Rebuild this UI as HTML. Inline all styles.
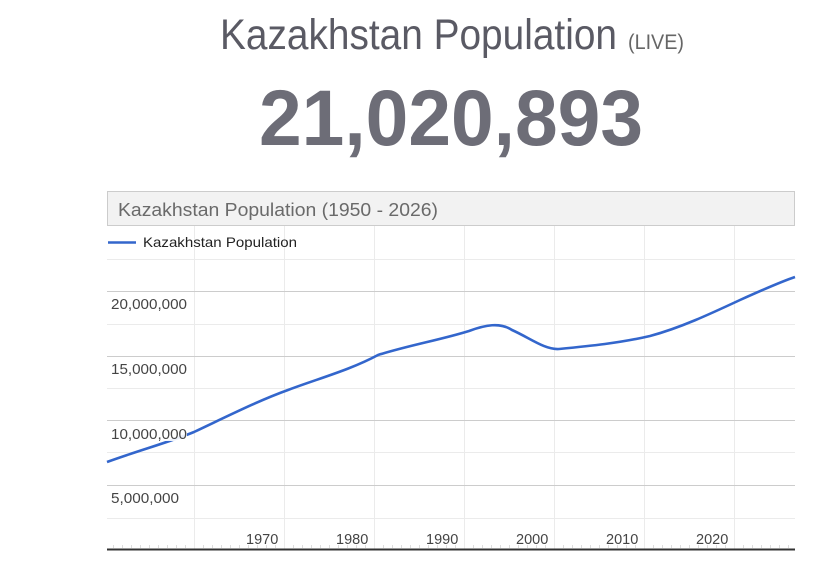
<!DOCTYPE html>
<html><head><meta charset="utf-8"><style>
html,body{margin:0;padding:0;background:#fff;}
svg{display:block;font-family:"Liberation Sans",Arial,sans-serif;}
</style></head><body>
<svg width="833" height="564" viewBox="0 0 833 564">
<text x="220" y="49" font-size="43" fill="#5a5a64" font-weight="300" textLength="397" lengthAdjust="spacingAndGlyphs">Kazakhstan Population</text>
<text x="628" y="49" font-size="21" fill="#666" textLength="56" lengthAdjust="spacingAndGlyphs">(LIVE)</text>
<text x="259" y="145" font-size="79" font-weight="bold" fill="#6d6d77" textLength="384" lengthAdjust="spacingAndGlyphs">21,020,893</text>
<rect x="107.5" y="191.5" width="687" height="34" fill="#f2f2f2" stroke="#ccc"/>
<text x="118" y="216" font-size="18" fill="#6a6a6a" textLength="320" lengthAdjust="spacingAndGlyphs">Kazakhstan Population (1950 - 2026)</text>
<g stroke="#ebebeb" stroke-width="1">
<line x1="194.5" y1="226" x2="194.5" y2="550"/><line x1="284.5" y1="226" x2="284.5" y2="550"/><line x1="374.5" y1="226" x2="374.5" y2="550"/><line x1="464.5" y1="226" x2="464.5" y2="550"/><line x1="554.5" y1="226" x2="554.5" y2="550"/><line x1="644.5" y1="226" x2="644.5" y2="550"/><line x1="734.5" y1="226" x2="734.5" y2="550"/>
<line x1="107" y1="259.5" x2="795" y2="259.5"/><line x1="107" y1="324.5" x2="795" y2="324.5"/><line x1="107" y1="388.5" x2="795" y2="388.5"/><line x1="107" y1="452.5" x2="795" y2="452.5"/><line x1="107" y1="518.5" x2="795" y2="518.5"/>
</g>
<g stroke="#ccc" stroke-width="1">
<line x1="107" y1="291.5" x2="795" y2="291.5"/><line x1="107" y1="356.5" x2="795" y2="356.5"/><line x1="107" y1="420.5" x2="795" y2="420.5"/><line x1="107" y1="485.5" x2="795" y2="485.5"/>
</g>
<path d="M113.5,545V548M122.5,545V548M131.5,545V548M140.5,545V548M149.5,545V548M158.5,545V548M167.5,545V548M176.5,545V548M185.5,545V548M203.5,545V548M212.5,545V548M221.5,545V548M230.5,545V548M239.5,545V548M248.5,545V548M257.5,545V548M266.5,545V548M275.5,545V548M293.5,545V548M302.5,545V548M311.5,545V548M320.5,545V548M329.5,545V548M338.5,545V548M347.5,545V548M356.5,545V548M365.5,545V548M383.5,545V548M392.5,545V548M401.5,545V548M410.5,545V548M419.5,545V548M428.5,545V548M437.5,545V548M446.5,545V548M455.5,545V548M473.5,545V548M482.5,545V548M491.5,545V548M500.5,545V548M509.5,545V548M518.5,545V548M527.5,545V548M536.5,545V548M545.5,545V548M563.5,545V548M572.5,545V548M581.5,545V548M590.5,545V548M599.5,545V548M608.5,545V548M617.5,545V548M626.5,545V548M635.5,545V548M653.5,545V548M662.5,545V548M671.5,545V548M680.5,545V548M689.5,545V548M698.5,545V548M707.5,545V548M716.5,545V548M725.5,545V548M743.5,545V548M752.5,545V548M761.5,545V548M770.5,545V548M779.5,545V548M788.5,545V548" stroke="#ddd" stroke-width="1"/>
<line x1="107" y1="549.5" x2="795" y2="549.5" stroke="#333" stroke-width="2"/>
<line x1="108" y1="242.5" x2="136" y2="242.5" stroke="#3366cc" stroke-width="2.5"/>
<text x="143" y="247" font-size="14" fill="#222" textLength="154" lengthAdjust="spacingAndGlyphs">Kazakhstan Population</text>
<g font-size="14.5" fill="#444">
<text x="111" y="309" textLength="76" lengthAdjust="spacingAndGlyphs">20,000,000</text>
<text x="111" y="374" textLength="76" lengthAdjust="spacingAndGlyphs">15,000,000</text>
<path d="M107,462 C140,450 170,442 194,432 C230,415 260,400 288,390 C320,378 350,370 378,355 C410,345 440,340 469,331 C485,325 500,322 512,330 C530,338 545,350 559,349 C590,346 620,343 650,336 C680,328 710,314 740,300 C760,291 780,282 795,277" fill="none" stroke="#3366cc" stroke-width="2.6"/>
<rect x="110" y="425" width="77" height="16" fill="#fff" opacity="0.9"/><text x="111" y="439" textLength="76" lengthAdjust="spacingAndGlyphs">10,000,000</text>
<text x="111" y="503" textLength="68" lengthAdjust="spacingAndGlyphs">5,000,000</text>
<text x="246" y="544">1970</text><text x="336" y="544">1980</text><text x="426" y="544">1990</text><text x="516" y="544">2000</text><text x="606" y="544">2010</text><text x="696" y="544">2020</text>
</g>
</svg>
</body></html>
